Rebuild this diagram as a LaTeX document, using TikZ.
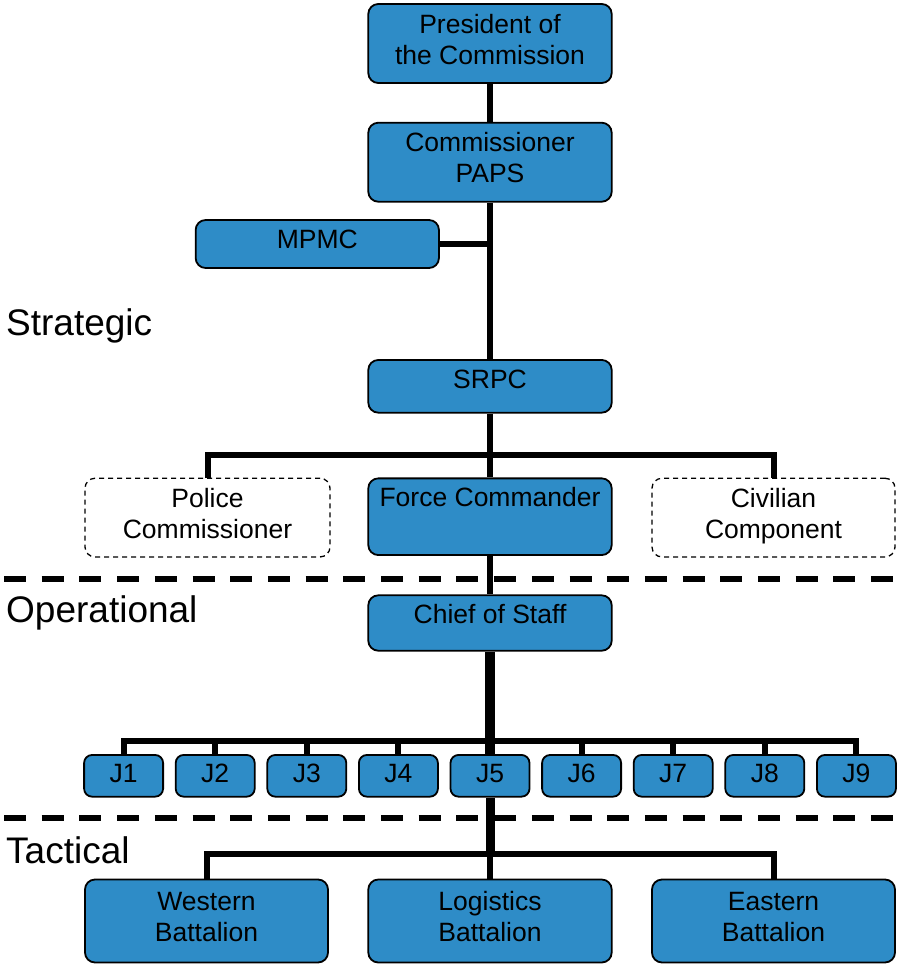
\documentclass[tikz,border=0pt]{standalone}
\usepackage{fontspec}
\setmainfont{Liberation Sans}
\definecolor{unitblue}{RGB}{46,140,199}
\begin{document}
\begin{tikzpicture}[x=1pt,y=-1pt,
  unit/.style={draw=black, line width=1.8pt, fill=unitblue, rounded corners=10pt, inner sep=0pt},
  ghost/.style={draw=black, line width=1.3pt, dash pattern=on 5pt off 4pt, rounded corners=10pt, inner sep=0pt},
  lbl/.style={font=\fontsize{26.5}{31}\selectfont, align=center, inner sep=0pt, anchor=base},
  tier/.style={font=\fontsize{37}{44}\selectfont, inner sep=0pt, anchor=base west},
  link/.style={line width=6pt},
  trunk/.style={line width=10pt},
  divider/.style={line width=6pt, dash pattern=on 22pt off 15.7pt}]
\useasboundingbox (0,0) rectangle (897,967);

% level dividers
\coordinate (divAL) at (4,579);
\coordinate (divAR) at (897,579);
\coordinate (divBL) at (4,818);
\coordinate (divBR) at (897,818);
\draw[divider] (divAL) -- (divAR);
\draw[divider] (divBL) -- (divBR);

% tier labels
\node[tier] (tStrat) at (6,335) {Strategic};
\node[tier] (tOper) at (6,622) {Operational};
\node[tier] (tTact) at (6,863) {Tactical};

% boxes
\node[unit, minimum width=243.4pt, minimum height=79pt] (pres) at (490,43.5) {};
\node[unit, minimum width=243.4pt, minimum height=79pt] (comm) at (490,162.2) {};
\node[unit, minimum width=243.3pt, minimum height=48pt] (mpmc) at (317.3,244) {};
\node[unit, minimum width=243.4pt, minimum height=52.7pt] (srpc) at (490,386.3) {};
\node[ghost, minimum width=245pt, minimum height=78.7pt] (police) at (207.5,517.6) {};
\node[unit, minimum width=243.4pt, minimum height=76.7pt] (force) at (490,516.7) {};
\node[ghost, minimum width=243pt, minimum height=78.7pt] (civil) at (773.5,517.6) {};
\node[unit, minimum width=243.4pt, minimum height=55.4pt] (cos) at (490,623) {};
\foreach \i in {1,...,9}{
  \node[unit, rounded corners=8pt, minimum width=79pt, minimum height=41.7pt] (j\i) at ({490+91.6*(\i-5)},775.8) {};
}
\node[unit, minimum width=243pt, minimum height=83pt] (west) at (206.5,921) {};
\node[unit, minimum width=243.4pt, minimum height=83pt] (logi) at (490,921) {};
\node[unit, minimum width=243pt, minimum height=83pt] (east) at (773.5,921) {};

% box texts (base anchor sits on the last line of a two-line text)
\node[lbl] (presT) at (490,64) {President of\\the Commission};
\node[lbl] (commT) at (490,182.7) {Commissioner\\PAPS};
\node[lbl] (mpmcT) at (317.3,248.3) {MPMC};
\node[lbl] (srpcT) at (490,388.3) {SRPC};
\node[lbl] (policeT) at (207.5,538) {Police\\Commissioner};
\node[lbl] (forceT) at (490,506.7) {Force Commander};
\node[lbl] (civilT) at (773.5,538) {Civilian\\Component};
\node[lbl] (cosT) at (490,623.3) {Chief of Staff};
\foreach \i in {1,...,9}{
  \node[lbl] (j\i T) at ({490+91.6*(\i-5)},782.7) {J\i};
}
\node[lbl] (westT) at (206.5,941.5) {Western\\Battalion};
\node[lbl] (logiT) at (490,941.5) {Logistics\\Battalion};
\node[lbl] (eastT) at (773.5,941.5) {Eastern\\Battalion};

% connectors
\coordinate (sbus) at (490,455);
\coordinate (jbus) at (490,740.5);
\coordinate (bbus) at (490,854);
\draw[link] (pres.south) -- (comm.north);
\draw[link] (comm.south) -- (srpc.north);
\draw[link] (mpmc.east) -- (mpmc.east -| comm.south);
\draw[link] (srpc.south) -- (force.north);
\draw[link] (police.north) |- (sbus) -| (civil.north);
\draw[link] (force.south) -- (cos.north);
\draw[trunk] (cos.south) -- (j5.north);
\draw[link] (j1.north) |- (jbus) -| (j9.north);
\foreach \i in {2,3,4,6,7,8}{
  \draw[link] (j\i.north) -- (j\i.north |- jbus);
}
\draw[line width=9pt] (j5.south) -- (j5.south |- bbus);
\draw[link] (west.north) |- (bbus) -| (east.north);
\draw[link] (bbus) -- (logi.north);
\end{tikzpicture}
\end{document}
